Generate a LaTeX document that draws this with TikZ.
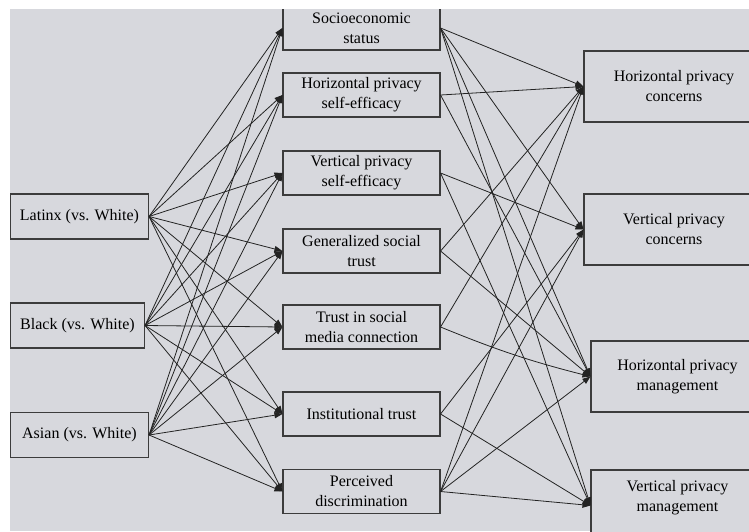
\documentclass[tikz,border=0pt]{standalone}
\usepackage{fontspec}
\setmainfont{Liberation Serif}
\usetikzlibrary{arrows.meta}
\definecolor{pathbg}{RGB}{215,216,221}
\definecolor{pathline}{RGB}{35,35,35}
\definecolor{pathframe}{RGB}{60,60,60}

\begin{document}
\begin{tikzpicture}[x=1pt, y=-1pt,
    font=\fontsize{16}{20}\selectfont,
    box/.style={draw=pathframe, fill=pathbg, line width=1.1pt, inner sep=0pt, align=center},
    inbox/.style={box, minimum height=45pt},
    midbox/.style={box, minimum width=157pt, minimum height=44pt},
    outbox/.style={box, minimum height=71pt},
    arr/.style={pathline, line width=0.8pt, -{Triangle[length=8pt, width=6pt]}}]
		\useasboundingbox (0,0) rectangle (749,531);
		\clip (10,9) rectangle (749,531);
		\fill[pathbg] (10,9) rectangle (749,531);
		% race / ethnicity
		\foreach \n/\x/\w/\y/\t in {
		  lat/79.5/138/216.5/Latinx (vs. White),
		  blk/77.5/134/325.5/Black (vs. White),
		  asn/79.5/138/435/Asian (vs. White)}
		  \node[inbox, minimum width=\w pt] (\n) at (\x,\y) {\t};
		% mediators
		\foreach \n/\y/\t in {
		  ses/28/Socioeconomic\\status,
		  hpse/95/Horizontal privacy\\self-efficacy,
		  vpse/173/Vertical privacy\\self-efficacy,
		  gst/251/Generalized social\\trust,
		  tsmc/327/Trust in social\\media connection,
		  inst/414/Institutional trust,
		  pd/491.5/Perceived\\discrimination}
		  \node[midbox] (\n) at (361.5,\y) {\t};
		% outcomes
		\foreach \n/\x/\w/\y/\t in {
		  hpc/674/180/86.5/Horizontal privacy\\concerns,
		  vpc/674/180/229.5/Vertical privacy\\concerns,
		  hpm/677.5/173/376.5/Horizontal privacy\\management,
		  vpm/677.5/173/505.5/Vertical privacy\\management\\\mbox{}}
		  \node[outbox, minimum width=\w pt] (\n) at (\x,\y) {\t};
		% paths
		\foreach \a in {lat,blk,asn}
		  \foreach \b in {ses,hpse,vpse,gst,tsmc,inst,pd}
		    \draw[arr] (\a.east) -- (\b.west);
		\foreach \a/\b in {ses/hpc, ses/vpc, ses/hpm, ses/vpm,
		  hpse/hpc, hpse/hpm, vpse/vpc, vpse/vpm, gst/hpc, gst/hpm,
		  tsmc/hpc, inst/vpc, inst/vpm,
		  pd/hpc, pd/vpc, pd/hpm, pd/vpm}
		  \draw[arr] (\a.east) -- (\b.west);
		\draw[arr] (tsmc.east) to[bend right=4] (hpm.west);
	\end{tikzpicture}
\end{document}
